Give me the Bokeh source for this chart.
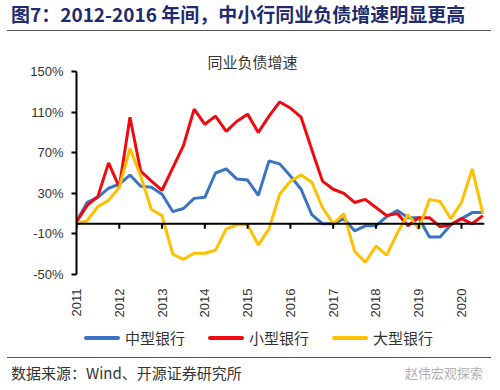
import numpy as np
from bokeh.plotting import figure
from bokeh.models import (Range1d, FixedTicker, Span, Div, ColumnDataSource, CustomJSTickFormatter)
from bokeh.layouts import column
from bokeh.embed import file_html
from bokeh.resources import INLINE

years = ["2011", "2012", "2013", "2014", "2015", "2016", "2017", "2018", "2019", "2020"]
quarters = [f"{y}Q{q}" for y in years for q in (1, 2, 3, 4)][:39]

mid_banks = [2, 21, 26, 35, 39, 48, 37, 36, 29, 12, 15, 25, 26, 50, 54, 44, 43, 28, 62, 59,
             47, 34, 9, 0, 0, 5, -7, -2, -2, 7, 13, 6, 6, -13, -13, -1, 5, 11, 11]
small_banks = [2, 18, 27, 60, 36, 105, 52, 42, 33, 55, 77, 113, 98, 106, 91, 101, 108, 90, 106, 120,
               114, 105, 73, 42, 34, 30, 21, 24, 16, 8, 10, -2, 6, 6, -3, -1, 5, 0, 8]
large_banks = [0, 3, 17, 23, 36, 74, 47, 14, 8, -30, -35, -29, -29, -26, -5, -1, -1, -21, -5, 29,
               42, 48, 41, 16, 0, 10, -27, -38, -22, -31, -9, 9, -5, 24, 22, 5, 21, 54, 10]
y_ticks = [-50, -10, 30, 70, 110, 150]

series_names = ["中型银行", "小型银行", "大型银行"]
colors = ["#3C74C4", "#F00A0F", "#FFC000"]

x_idx = list(range(len(quarters)))
year_pos = [quarters.index(f"{y}Q1") for y in years]

src = ColumnDataSource(dict(x=x_idx, mid=mid_banks, small=small_banks, large=large_banks))

CJK = "Noto Sans CJK SC"
LAT = "Liberation Sans"

p = figure(width=484, height=288, output_backend="svg", toolbar_location=None,
           x_range=Range1d(0, 38.15), y_range=Range1d(-50, 150),
           min_border_left=69, min_border_right=7, min_border_top=38, min_border_bottom=47)
p.outline_line_color = None
p.grid.visible = False
p.background_fill_color = "white"

# chart title
p.title.text = "同业负债增速"
p.title.align = "left"
p.title.offset = 131
p.title.text_font = CJK
p.title.text_font_size = "15px"
p.title.text_font_style = "normal"
p.title.text_color = "#333333"
p.title.standoff = 0

for key, c in zip(["mid", "small", "large"], colors):
    p.line("x", key, source=src, line_color=c, line_width=3)

# zero line with year tick marks
p.add_layout(Span(location=0, dimension="width", line_color="black", line_width=2))
p.segment(x0=year_pos, y0=[0] * len(year_pos), x1=year_pos, y1=[-5] * len(year_pos),
          line_color="black", line_width=2)

# y axis
yax = p.yaxis[0]
yax.ticker = FixedTicker(ticks=y_ticks)
yax.formatter = CustomJSTickFormatter(code="return tick + '%';")
yax.axis_line_color = "black"
yax.axis_line_width = 2
yax.major_tick_out = 5
yax.major_tick_in = 0
yax.major_tick_line_color = "black"
yax.major_tick_line_width = 2
yax.minor_tick_line_color = None
yax.major_label_text_font = LAT
yax.major_label_text_font_size = "13px"
yax.major_label_text_color = "#333333"
yax.major_label_standoff = 8

# x axis: labels only
xax = p.xaxis[0]
xax.ticker = FixedTicker(ticks=year_pos)
xax.major_label_overrides = {pos: y for pos, y in zip(year_pos, years)}
xax.axis_line_color = None
xax.major_tick_line_color = None
xax.minor_tick_line_color = None
xax.major_label_orientation = np.pi / 2
xax.major_label_text_font = LAT
xax.major_label_text_font_size = "13px"
xax.major_label_text_color = "#333333"
xax.major_label_standoff = 8

# legend (HTML)
items_html = "".join(
    f'<span style="display:inline-block;width:36px;height:4px;border-radius:2px;background:{c};'
    f'vertical-align:middle;margin-right:5px;"></span>'
    f'<span style="vertical-align:middle;margin-right:23px;">{n}</span>'
    for c, n in zip(colors, series_names))
legend_div = Div(text='<div style="width:484px;height:30px;padding-left:77px;box-sizing:border-box;'
                      'font-family:\'Noto Sans CJK SC\';font-size:15px;color:#333;line-height:30px;'
                      'white-space:nowrap;">' + items_html + '</div>',
                 width=484, height=30, margin=(0, 0, 0, 0))

title_div = Div(text='<div style="width:484px;height:28px;border-bottom:1.5px solid #555;'
                     'font-family:\'Noto Sans CJK SC\';font-weight:bold;font-size:19px;'
                     'color:#1E2B6E;line-height:22px;white-space:nowrap;padding-left:4px;box-sizing:border-box;">'
                     '图7：2012-2016 年间，中小行同业负债增速明显更高</div>',
                width=484, height=30, margin=(0, 0, 0, 0))
src_div = Div(text='<div style="width:484px;margin-top:6px;border-top:1.5px solid #555;padding-top:4px;'
                   'font-family:\'Noto Sans CJK SC\';font-size:15px;color:#333;line-height:22px;'
                   'white-space:nowrap;padding-left:4px;box-sizing:border-box;">'
                   '数据来源：Wind、开源证券研究所'
                   '<span style="float:right;color:#B0B0B0;font-size:13px;margin-right:8px;">赵伟宏观探索</span></div>',
                width=484, height=34, margin=(0, 0, 0, 0))

layout = column(title_div, p, legend_div, src_div, spacing=0, margin=(3, 0, 0, 7))
open("out.html", "w").write(file_html(layout, INLINE))
